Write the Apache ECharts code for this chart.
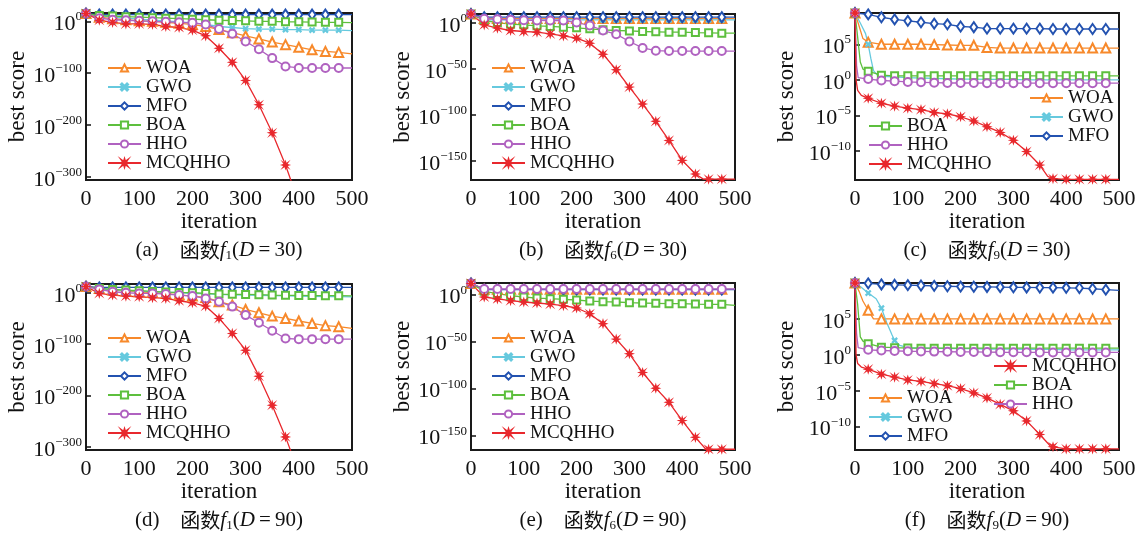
<!DOCTYPE html>
<html>
<head>
<meta charset="utf-8">
<script src="https://cdn.jsdelivr.net/npm/echarts@6/dist/echarts.min.js"></script>
<style>
  html, body { margin: 0; background: #fff; }
  #chart { width: 1141px; height: 537px; }
</style>
</head>
<body>
<div id="chart"></div>
<script>
// values are log10(best score)
const ALGOS = ['WOA', 'GWO', 'MFO', 'BOA', 'HHO', 'MCQHHO'];
const ITER = [0, 25, 50, 75, 100, 125, 150, 175, 200, 225, 250, 275, 300, 325, 350, 375, 400, 425, 450, 475, 500];

// (a) f1, D=30
const f1D30_WOA = [15, 8, 5, 3, 1, 0, -2, -4, -6, -10, -16, -22, -28, -34, -40, -45, -50, -55, -58, -60, -63];
const f1D30_GWO = [15, 11, 8, 6, 4, 2, 1, -1, -3, -6, -10, -12, -14, -15, -15, -16, -16, -17, -17, -17, -18];
const f1D30_MFO = [15, 13, 13, 13, 13, 13, 13, 13, 13, 13, 13, 13, 13, 13, 13, 13, 13, 13, 13, 13, 13];
const f1D30_BOA = [15, 11, 10, 9, 8, 7, 6, 5, 4, 3, 2, 1.5, 1, 0, 0, -1, -1, -1.5, -2, -2, -2.5];
const f1D30_HHO = [15, 6, 3, 2, 1, 0, -1, -2, -3, -6, -15, -24, -39, -54, -71, -87, -90, -90, -90, -90, -90];
const f1D30_MCQHHO = [15, 2, -2, -5, -5, -6, -10, -12, -17, -28, -52, -79, -114, -161, -215, -277, -350];

// (b) f6, D=30
const f6D30_WOA = [10, 5, 5, 5, 5, 5, 5, 5, 5, 5, 5, 5, 5, 5, 5, 5, 5, 5, 5, 5, 5];
const f6D30_GWO = [10, 3.5, 3.5, 3.5, 3.5, 3.5, 3.5, 3.5, 3.5, 3.5, 3.5, 3.5, 3.5, 3.5, 3.5, 3.5, 3.5, 3.5, 3.5, 3.5, 3.5];
const f6D30_MFO = [10, 6.5, 6.5, 6.5, 6.5, 6.5, 6.5, 6.5, 6.5, 6.5, 6.5, 6.5, 6.5, 6.5, 6.5, 6.5, 6.5, 6.5, 6.5, 6.5, 6.5];
const f6D30_BOA = [10, 2.9, 0.7, -1.1, -1.8, -2.9, -3.6, -4.4, -5.1, -6.2, -7.3, -8, -8.4, -9.1, -9.4, -9.8, -9.8, -10.2, -10.5, -10.9, -10.9];
const f6D30_HHO = [10, 4.7, 4.4, 3.6, 3.2, 3.0, 2.9, 2.9, 0.7, -2.5, -8, -12, -20, -27, -30, -30.4, -30.4, -30.4, -30.4, -30.4, -30.4];
const f6D30_MCQHHO = [10, -1.8, -5.4, -8, -9.1, -9.8, -11.6, -13.8, -16.3, -21.8, -33.8, -50.8, -69.7, -88.2, -107, -127.8, -149.6, -164.5, -170, -170, -170];
const f6D30_MCQHHO_x = [[440, -170]];

// (c) f9, D=30
const f9D30_WOA = [9.4, 5.3, 5.0, 5.0, 5.0, 5.0, 4.95, 4.9, 4.85, 4.85, 4.55, 4.47, 4.47, 4.47, 4.47, 4.47, 4.47, 4.47, 4.47, 4.47, 4.47];
const f9D30_WOA_x = [[8, 7.5], [15, 5.8]];
const f9D30_GWO = [9.4, 5.0, 0.5, 0.4, 0.3, 0.25, 0.2, 0.15, 0.1, 0.1, 0.05, 0.05, 0.05, 0, 0, 0, 0, 0, 0, 0, 0];
const f9D30_GWO_x = [[10, 8], [20, 6.5], [30, 3], [35, 1.3], [42, 0.7]];
const f9D30_MFO = [9.4, 9.2, 8.8, 8.5, 8.3, 8.1, 7.9, 7.8, 7.5, 7.4, 7.2, 7.2, 7.2, 7.2, 7.2, 7.15, 7.15, 7.15, 7.15, 7.15, 7.15];
const f9D30_BOA = [9.4, 1.2, 0.65, 0.56, 0.56, 0.56, 0.56, 0.56, 0.56, 0.56, 0.56, 0.56, 0.56, 0.56, 0.56, 0.56, 0.56, 0.56, 0.56, 0.56, 0.56];
const f9D30_BOA_x = [[5, 6], [10, 2.5], [15, 1.5]];
const f9D30_HHO = [9.4, 0.1, -0.1, -0.2, -0.3, -0.35, -0.4, -0.45, -0.45, -0.45, -0.47, -0.47, -0.47, -0.47, -0.47, -0.47, -0.47, -0.47, -0.47, -0.47, -0.47];
const f9D30_HHO_x = [[3, 2], [6, 0.3]];
const f9D30_MCQHHO = [9.4, -2.6, -3.3, -3.7, -4.0, -4.2, -4.6, -4.8, -5.2, -5.8, -6.6, -7.4, -8.5, -10.1, -12.0, -13.9, -14.0, -14.0, -14.0, -14.0, -14.0];
const f9D30_MCQHHO_x = [[2, 0], [5, -1.5], [12, -2.2], [365, -13.6]];

// (d) f1, D=90
const f1D90_WOA = [12, 8.4, 5.2, 3.5, 1.9, 0.5, -1.3, -4, -6.5, -9.1, -17.5, -24, -32.5, -39, -45.5, -50, -55, -59.7, -64, -66, -69.5];
const f1D90_GWO = [12, 8, 6, 4.5, 3, 2, 1, 0, -1, -2, -3, -4, -4.5, -5, -5.5, -6, -6.5, -7, -7.3, -7.6, -8];
const f1D90_MFO = [12, 10.5, 10.5, 10.5, 10.5, 10.5, 10.5, 10.5, 10.5, 10.5, 10.5, 10.5, 10.5, 10.5, 10.5, 10.5, 10.5, 10.5, 10.5, 10.5, 10.5];
const f1D90_BOA = [12, 8.4, 6.5, 5.2, 3.9, 2.6, 1.3, 0.6, 0, -1.3, -2.6, -3, -3.2, -3.8, -4.5, -5, -5.2, -5.5, -5.8, -5.8, -6.2];
const f1D90_HHO = [12, 6.5, 1.9, 0, -1.3, -1.3, -2.6, -4.5, -6.5, -11, -17.5, -27, -43.5, -58.4, -74, -89, -90.3, -90.3, -90.3, -90.3, -90.3];
const f1D90_MCQHHO = [12, -1.3, -4.5, -6.5, -7.8, -9.7, -11, -15.6, -19.5, -26, -50, -79.2, -111.7, -162.3, -218.8, -280.5, -350];

// (e) f6, D=90
const f6D90_WOA = [12, 5.7, 5.7, 5.7, 5.7, 5.7, 5.7, 5.7, 5.7, 5.7, 5.7, 5.7, 5.7, 5.7, 5.7, 5.7, 5.7, 5.7, 5.7, 5.7, 5.7];
const f6D90_GWO = [12, 5.6, 5.6, 5.6, 5.6, 5.6, 5.6, 5.6, 5.6, 5.6, 5.6, 5.6, 5.6, 5.6, 5.6, 5.6, 5.6, 5.6, 5.6, 5.6, 5.6];
const f6D90_MFO = [12, 5.4, 5.4, 5.4, 5.4, 5.4, 5.4, 5.4, 5.4, 5.4, 5.4, 5.4, 5.4, 5.4, 5.4, 5.4, 5.4, 5.4, 5.4, 5.4, 5.4];
const f6D90_BOA = [12, 3.6, 1.1, -1.1, -2.5, -3.6, -4.3, -5, -5.7, -6.8, -7.5, -7.8, -8.5, -8.9, -9.2, -9.6, -9.6, -10, -10.3, -10.3, -11.4];
const f6D90_HHO = [12, 6, 6, 6, 6, 6, 6, 6, 6, 6, 6, 6, 6, 6, 6, 6, 6, 6, 6, 6, 6];
const f6D90_MCQHHO = [12, -2.5, -4.6, -6.4, -7.8, -8.9, -10, -11.7, -14.2, -20.3, -30.9, -47.3, -62.9, -82.8, -99.5, -114.5, -134, -151.8, -164.5, -164.5, -164.5];
const f6D90_MCQHHO_x = [[445, -164.5]];

// (f) f9, D=90
const f9D90_WOA = [10, 6.2, 5.0, 5.0, 5.0, 5.0, 5.0, 5.0, 5.0, 5.0, 5.0, 5.0, 5.0, 5.0, 5.0, 5.0, 5.0, 5.0, 5.0, 5.0, 5.0];
const f9D90_WOA_x = [[8, 8.8], [15, 7.5], [35, 5.0]];
const f9D90_GWO = [10, 8.6, 6.5, 2.0, 1.0, 0.95, 0.9, 0.9, 0.85, 0.85, 0.8, 0.8, 0.8, 0.75, 0.75, 0.75, 0.7, 0.7, 0.7, 0.7, 0.7];
const f9D90_GWO_x = [[10, 9.5], [40, 7.8], [60, 4.5], [70, 2.8], [85, 1.3]];
const f9D90_MFO = [10, 9.95, 9.8, 9.75, 9.7, 9.65, 9.6, 9.55, 9.5, 9.48, 9.45, 9.42, 9.4, 9.38, 9.36, 9.35, 9.33, 9.3, 9.2, 9.07, 8.97];
const f9D90_BOA = [10, 1.55, 1.07, 1.0, 0.95, 0.93, 0.93, 0.93, 0.93, 0.93, 0.93, 0.93, 0.93, 0.93, 0.93, 0.93, 0.93, 0.93, 0.93, 0.93, 0.93];
const f9D90_BOA_x = [[5, 7], [10, 2.5], [15, 1.9]];
const f9D90_HHO = [10, 0.7, 0.6, 0.55, 0.5, 0.48, 0.45, 0.43, 0.4, 0.4, 0.38, 0.36, 0.35, 0.35, 0.34, 0.33, 0.33, 0.33, 0.33, 0.33, 0.33];
const f9D90_HHO_x = [[3, 3], [6, 1.0]];
const f9D90_MCQHHO = [10, -2.0, -2.7, -3.1, -3.5, -3.7, -4.0, -4.3, -4.7, -5.3, -6.0, -6.9, -7.8, -9.2, -11.1, -12.8, -13.1, -13.1, -13.1, -13.1, -13.1];
const f9D90_MCQHHO_x = [[2, 0], [5, -1.2], [12, -1.7], [370, -12.7]];

const X_TICKS = [0, 100, 200, 300, 400, 500];
const Y_TICKS_F1 = [0, -100, -200, -300];
const Y_TICKS_F6 = [0, -50, -100, -150];
const Y_TICKS_F9 = [5, 0, -5, -10];

function pts(vals, extra) {
  const out = vals.map((v, i) => [ITER[i], v]);
  if (extra) out.push(...extra);
  return out.sort((p, q) => p[0] - q[0]);
}

const CROSS = 'path://M0,1.5L1.5,0L5,3.5L8.5,0L10,1.5L6.5,5L10,8.5L8.5,10L5,6.5L1.5,10L0,8.5L3.5,5Z';
const STAR = 'path://M5,0L6,3.3L8.5,1.5L6.7,4L10,5L6.7,6L8.5,8.5L6,6.7L5,10L4,6.7L1.5,8.5L3.3,6L0,5L3.3,4L1.5,1.5L4,3.3Z';

const STYLE = {
  WOA:    { color: '#f7892b', symbol: 'emptyTriangle', size: 9 },
  GWO:    { color: '#66c9de', symbol: CROSS, size: 5 },
  MFO:    { color: '#2352b0', symbol: 'emptyDiamond', size: [7, 10] },
  BOA:    { color: '#5dbf3d', symbol: 'emptyRect', size: 7 },
  HHO:    { color: '#b062c0', symbol: 'emptyCircle', size: 8 },
  MCQHHO: { color: '#e8282d', symbol: STAR, size: 7 }
};

const SERIF = 'Liberation Serif';

const panels = [
  { tag: 'a', fn: '1', D: '30', grid: { left: 86, top: 13, width: 266, height: 167 }, y: [-306, 16], ticks: Y_TICKS_F1,
    data: { WOA: pts(f1D30_WOA), GWO: pts(f1D30_GWO), MFO: pts(f1D30_MFO), BOA: pts(f1D30_BOA), HHO: pts(f1D30_HHO), MCQHHO: pts(f1D30_MCQHHO) },
    legends: [{ left: 107, top: 58.5, names: ALGOS }] },
  { tag: 'b', fn: '6', D: '30', grid: { left: 471, top: 14, width: 264, height: 166 }, y: [-171, 10], ticks: Y_TICKS_F6,
    data: { WOA: pts(f6D30_WOA), GWO: pts(f6D30_GWO), MFO: pts(f6D30_MFO), BOA: pts(f6D30_BOA), HHO: pts(f6D30_HHO), MCQHHO: pts(f6D30_MCQHHO, f6D30_MCQHHO_x) },
    legends: [{ left: 491, top: 58.5, names: ALGOS }] },
  { tag: 'c', fn: '9', D: '30', grid: { left: 855, top: 13, width: 264, height: 167 }, y: [-14.1, 9.4], ticks: Y_TICKS_F9,
    data: { WOA: pts(f9D30_WOA, f9D30_WOA_x), GWO: pts(f9D30_GWO, f9D30_GWO_x), MFO: pts(f9D30_MFO), BOA: pts(f9D30_BOA, f9D30_BOA_x), HHO: pts(f9D30_HHO, f9D30_HHO_x), MCQHHO: pts(f9D30_MCQHHO, f9D30_MCQHHO_x) },
    legends: [{ left: 868, top: 116.5, names: ['BOA', 'HHO', 'MCQHHO'] }, { left: 1029, top: 88.5, names: ['WOA', 'GWO', 'MFO'] }] },
  { tag: 'd', fn: '1', D: '90', grid: { left: 86, top: 284, width: 266, height: 166 }, y: [-306, 17], ticks: Y_TICKS_F1,
    data: { WOA: pts(f1D90_WOA), GWO: pts(f1D90_GWO), MFO: pts(f1D90_MFO), BOA: pts(f1D90_BOA), HHO: pts(f1D90_HHO), MCQHHO: pts(f1D90_MCQHHO) },
    legends: [{ left: 107, top: 328.5, names: ALGOS }] },
  { tag: 'e', fn: '6', D: '90', grid: { left: 471, top: 283, width: 264, height: 167 }, y: [-165.3, 12.4], ticks: Y_TICKS_F6,
    data: { WOA: pts(f6D90_WOA), GWO: pts(f6D90_GWO), MFO: pts(f6D90_MFO), BOA: pts(f6D90_BOA), HHO: pts(f6D90_HHO), MCQHHO: pts(f6D90_MCQHHO, f6D90_MCQHHO_x) },
    legends: [{ left: 491, top: 328.5, names: ALGOS }] },
  { tag: 'f', fn: '9', D: '90', grid: { left: 855, top: 283, width: 264, height: 167 }, y: [-13.25, 10], ticks: Y_TICKS_F9,
    data: { WOA: pts(f9D90_WOA, f9D90_WOA_x), GWO: pts(f9D90_GWO, f9D90_GWO_x), MFO: pts(f9D90_MFO), BOA: pts(f9D90_BOA, f9D90_BOA_x), HHO: pts(f9D90_HHO, f9D90_HHO_x), MCQHHO: pts(f9D90_MCQHHO, f9D90_MCQHHO_x) },
    legends: [{ left: 868, top: 388.5, names: ['WOA', 'GWO', 'MFO'] }, { left: 993, top: 356.5, names: ['MCQHHO', 'BOA', 'HHO'] }] }
];

const chart = echarts.init(document.getElementById('chart'));

const grids = [], xAxes = [], yAxes = [], series = [], legends = [], titles = [];

function expLabel(v) {
  const e = v < 0 ? '\u2212' + (-v) : String(v);
  return '{b|10}{s|' + e + '}';
}

panels.forEach((p, i) => {
  grids.push(Object.assign({ show: true, borderColor: '#1a1a1a', borderWidth: 2, backgroundColor: 'transparent', containLabel: false, outerBoundsMode: 'none' }, p.grid));

  xAxes.push({
    type: 'value', gridIndex: i, min: 0, max: 500, interval: 100,
    axisLine: { show: false }, axisTick: { show: false }, splitLine: { show: false },
    axisLabel: { color: '#111', fontFamily: SERIF, fontSize: 22, margin: 8, customValues: X_TICKS },
    name: 'iteration', nameLocation: 'middle', nameGap: 26,
    nameTextStyle: { color: '#111', fontFamily: SERIF, fontSize: 23 }
  });

  yAxes.push({
    type: 'value', gridIndex: i, min: p.y[0], max: p.y[1],
    axisLine: { show: false }, splitLine: { show: false },
    axisTick: { show: true, inside: true, length: 5, lineStyle: { color: '#111', width: 1.5 }, customValues: p.ticks },
    axisLabel: {
      customValues: p.ticks, margin: 4, formatter: expLabel,
      rich: {
        b: { fontFamily: SERIF, fontSize: 22, color: '#111', lineHeight: 28, verticalAlign: 'bottom' },
        s: { fontFamily: SERIF, fontSize: 13, color: '#111', lineHeight: 13, verticalAlign: 'top', padding: [3, 0, 0, 0] }
      }
    },
    name: 'best score', nameLocation: 'middle', nameGap: 57,
    nameTextStyle: { color: '#111', fontFamily: SERIF, fontSize: 23 }
  });

  ALGOS.forEach(name => {
    const st = STYLE[name];
    const isArr = Array.isArray(st.size);
    series.push({
      type: 'line', name: name, xAxisIndex: i, yAxisIndex: i,
      data: p.data[name],
      symbol: st.symbol,
      symbolKeepAspect: true,
      showAllSymbol: true,
      symbolSize: v => (v[0] % 25 === 0 && v[0] < 500) ? st.size : (isArr ? [0, 0] : 0),
      lineStyle: { color: st.color, width: 1.3 },
      itemStyle: { color: st.color, borderColor: st.color, borderWidth: 1.2 },
      clip: true,
      silent: true
    });
  });

  p.legends.forEach(lg => {
    legends.push({
      orient: 'vertical', left: lg.left, top: lg.top, padding: 0,
      itemWidth: 33, itemHeight: 9, itemGap: 0, selectedMode: false,
      data: lg.names,
      textStyle: { color: '#111', fontFamily: SERIF, fontSize: 19, lineHeight: 19 }
    });
  });

  const cx = p.grid.left + p.grid.width / 2;
  titles.push({
    text: '{n|(' + p.tag + ')\u2002\u2002}{c|函数}{i|f}{sub|' + p.fn + '}{n|(}{i|D}{n|\u2009=\u2009' + p.D + ')}',
    left: cx, top: p.grid.top + p.grid.height + 58, textAlign: 'center', padding: 0,
    textStyle: {
      fontWeight: 'normal',
      rich: {
        n: { fontFamily: SERIF, fontWeight: 'normal', fontSize: 21, color: '#111', lineHeight: 24, verticalAlign: 'middle' },
        c: { fontFamily: 'Noto Sans CJK SC', fontWeight: 'normal', fontSize: 20, color: '#111', lineHeight: 24, verticalAlign: 'middle' },
        i: { fontFamily: SERIF, fontWeight: 'normal', fontStyle: 'italic', fontSize: 21, color: '#111', lineHeight: 24, verticalAlign: 'middle' },
        sub: { fontFamily: SERIF, fontWeight: 'normal', fontSize: 13, color: '#111', lineHeight: 13, verticalAlign: 'bottom' }
      }
    }
  });
});

chart.setOption({
  animation: false,
  backgroundColor: '#fff',
  title: titles,
  legend: legends,
  grid: grids,
  xAxis: xAxes,
  yAxis: yAxes,
  series: series
});
</script>
</body>
</html>
